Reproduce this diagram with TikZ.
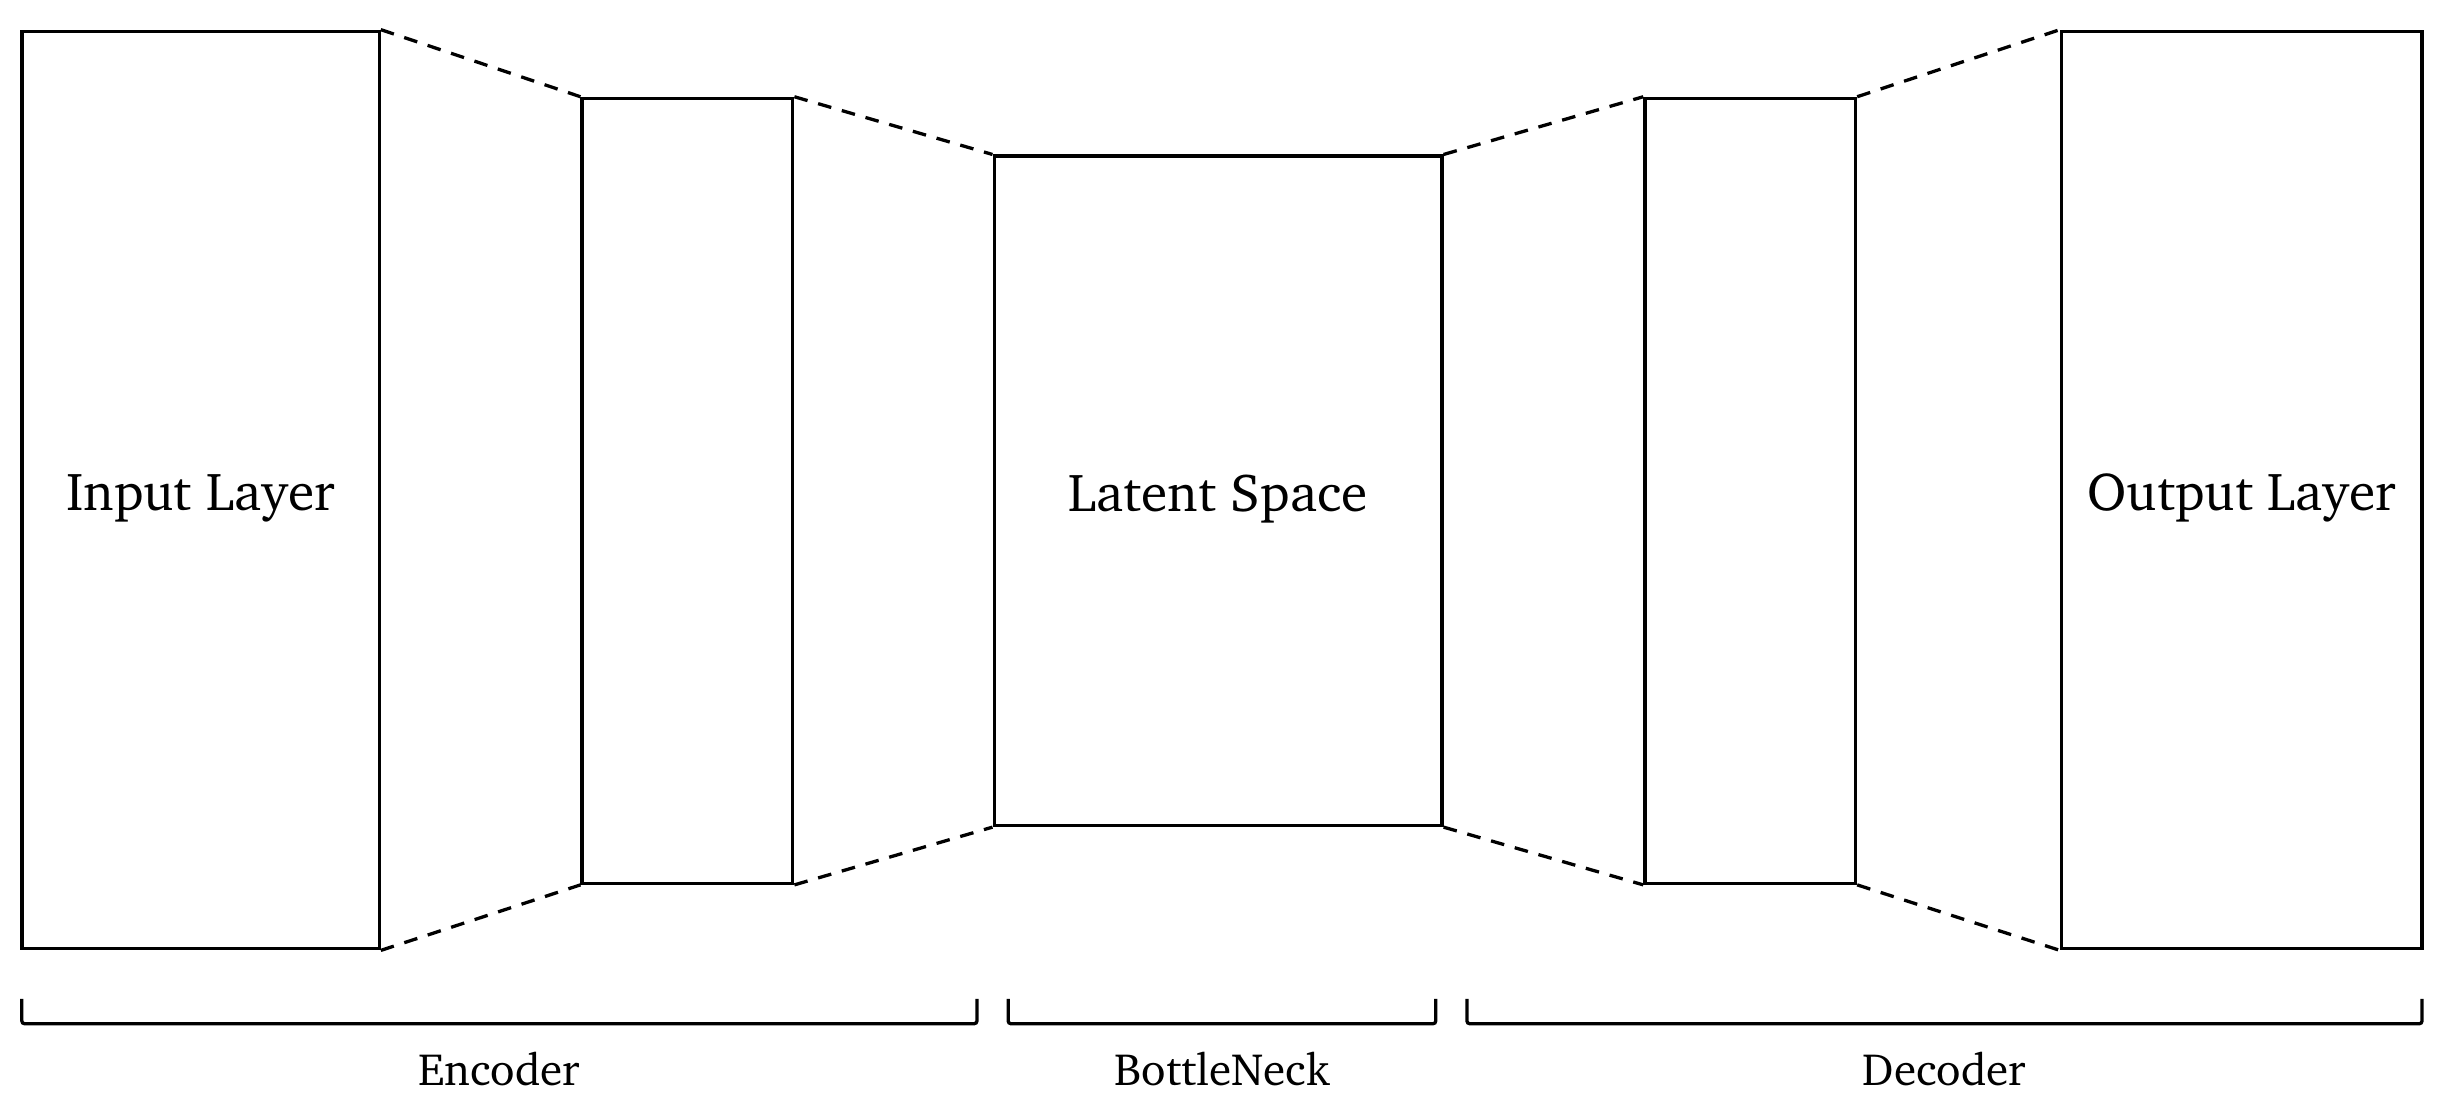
\documentclass[tikz,border=0pt]{standalone}
\usepackage[T1]{fontenc}
\usepackage{charter}
\begin{document}
\begin{tikzpicture}[x=0.02cm,y=-0.02cm]
\tikzstyle{layer}=[draw, line width=1.2pt, inner sep=0pt, font=\fontsize{19.5}{22}\selectfont]
\tikzstyle{link}=[line width=1.2pt, dash pattern=on 5pt off 4pt]
\tikzstyle{bracket}=[line width=1.2pt, rounded corners=1pt]
\tikzstyle{part}=[inner sep=0pt, font=\fontsize{16.5}{19}\selectfont]
\useasboundingbox (0,0) rectangle (1568,708.7);
% layers
\node [layer, minimum width=4.58cm, minimum height=11.76cm] (input) at (128.5,314) {\raisebox{-3pt}[\height][\depth]{Input Layer}};
\node [layer, minimum width=2.7cm, minimum height=10.06cm] (enc) at (440.5,314.5) {};
\node [layer, minimum width=5.74cm, minimum height=8.58cm] (latent) at (780.5,314.5) {\raisebox{-3pt}[\height][\depth]{Latent Space}};
\node [layer, minimum width=2.7cm, minimum height=10.06cm] (dec) at (1121.5,314.5) {};
\node [layer, minimum width=4.62cm, minimum height=11.76cm] (output) at (1436.5,314) {\raisebox{-3pt}[\height][\depth]{Output Layer}};
% dashed links
\draw [link] (input.north east) -- (enc.north west);
\draw [link] (input.south east) -- (enc.south west);
\draw [link] (enc.north east) -- (latent.north west);
\draw [link] (enc.south east) -- (latent.south west);
\draw [link] (latent.north east) -- (dec.north west);
\draw [link] (latent.south east) -- (dec.south west);
\draw [link] (dec.north east) -- (output.north west);
\draw [link] (dec.south east) -- (output.south west);
% brackets
\coordinate (encl) at (14,640);
\coordinate (encr) at (626,640);
\coordinate (botl) at (646,640);
\coordinate (botr) at (920,640);
\coordinate (decl) at (940,640);
\coordinate (decr) at (1552,640);
\draw [bracket] (encl) -- ++(0,16) -| (encr);
\draw [bracket] (botl) -- ++(0,16) -| (botr);
\draw [bracket] (decl) -- ++(0,16) -| (decr);
\node [part] (enctext) at (320,685) {Encoder};
\node [part] (bottext) at (783,685) {BottleNeck};
\node [part] (dectext) at (1246,685) {Decoder};
\end{tikzpicture}
\end{document}
